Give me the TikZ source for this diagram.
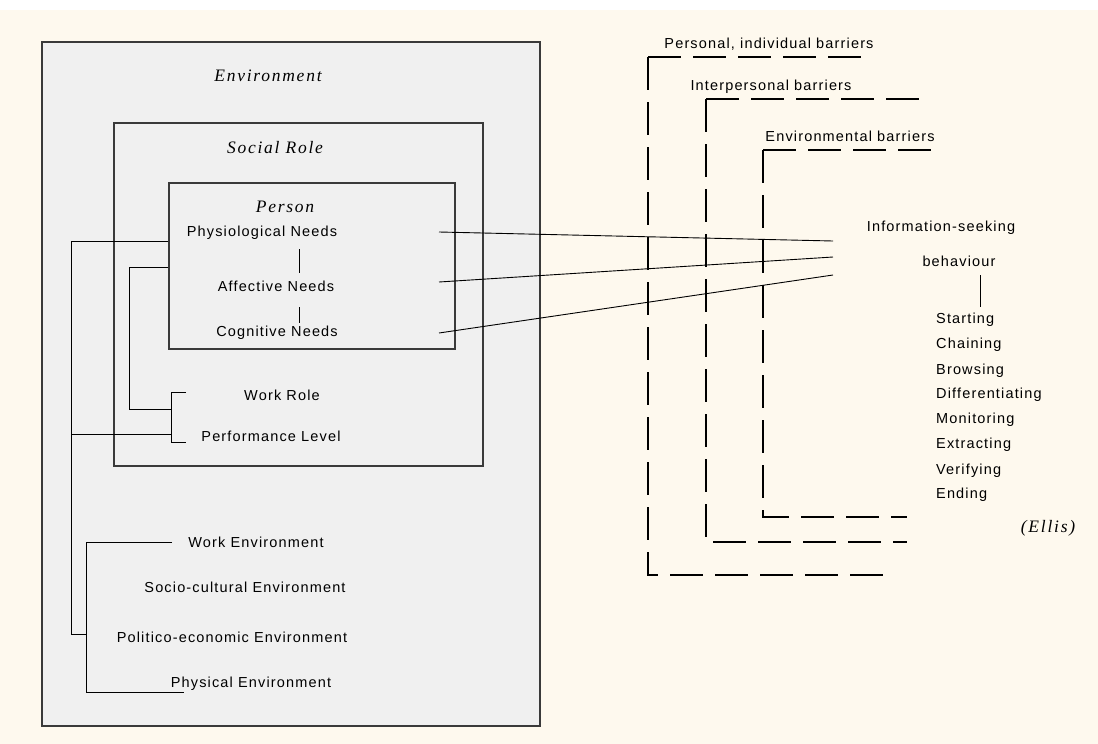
\documentclass[tikz,border=0pt]{standalone}
\usepackage{fontspec}
\setmainfont{Liberation Sans}[LetterSpace=8]
\newfontfamily\handserif{Liberation Serif}[LetterSpace=10]
\usetikzlibrary{positioning}
\definecolor{paper}{HTML}{FEF9EE}
\definecolor{boxgray}{HTML}{F0F0F0}
\definecolor{edgegray}{HTML}{3A3A3A}

\begin{document}
\begin{tikzpicture}[x=1pt, y=-1pt, font=\fontsize{14.5}{17}\selectfont]
% Define styles
\tikzstyle{levelbox} = [rectangle, draw=edgegray, line width=1.4pt, fill=boxgray, inner sep=0pt]
\tikzstyle{heading} = [inner sep=0pt, font=\handserif\itshape\fontsize{17.5}{20}\selectfont]
\tikzstyle{item} = [inner sep=0pt]
\tikzstyle{link} = [line width=0.9pt, black]
\tikzstyle{barrier} = [line width=1.2pt, black, dash pattern=on 33pt off 12pt]

% Background
\useasboundingbox (0,0) rectangle (1098,744);
\fill[paper] (0,0) rectangle (1098,744);
\fill[white] (0,0) rectangle (1098,10);

% Draw boxes
\node [levelbox, minimum width=498pt, minimum height=684pt] (env) at (291,384) {};
\node [levelbox, minimum width=369pt, minimum height=343pt] (role) at (298.5,294.5) {};
\node [levelbox, minimum width=286pt, minimum height=166pt] (person) at (312,266) {};

% Box titles
\node [heading] (envtitle) at (268,76) {Environment};
\node [heading] (roletitle) at (275,148) {Social Role};
\node [heading] (persontitle) at (285,207) {Person};

% Draw nodes
\node [item] (phys) at (262,233) {Physiological Needs};
\node [item] (aff) at (276,286) {Affective Needs};
\node [item] (cog) at (277,333) {Cognitive Needs};
\node [item] (work) at (282,395) {Work Role};
\node [item] (perf) at (271,436) {Performance Level};
\node [item] (workenv) at (256,542) {Work Environment};
\node [item] (socio) at (245,587) {Socio-cultural Environment};
\node [item] (polit) at (232,637) {Politico-economic Environment};
\node [item] (physenv) at (251,684) {Physical Environment};

% Barrier labels
\node [item] (personal) at (769,44) {Personal, individual barriers};
\node [item] (interpersonal) at (771,87) {Interpersonal barriers};
\node [item] (environmental) at (850,136) {Environmental barriers};

% Behaviour and its stages
\node [item] (isb) at (941,228) {Information-seeking};
\node [item] (behav) at (959,261) {behaviour};
\node [item, anchor=west] (starting) at (936,320) {Starting};
\node [item, anchor=west] (chaining) at (936,345) {Chaining};
\node [item, anchor=west] (browsing) at (936,371) {Browsing};
\node [item, anchor=west] (differ) at (936,395) {Differentiating};
\node [item, anchor=west] (monitor) at (936,420) {Monitoring};
\node [item, anchor=west] (extract) at (936,445) {Extracting};
\node [item, anchor=west] (verify) at (936,471) {Verifying};
\node [item, anchor=west] (ending) at (936,495) {Ending};
\node [heading] (ellis) at (1048,528) {(Ellis)};

% Connector points
\coordinate (needA) at (439,232);
\coordinate (needB) at (439,282);
\coordinate (needC) at (439,333);
\coordinate (isbA) at (833,241);
\coordinate (isbB) at (833,257);
\coordinate (isbC) at (833,275);
\coordinate (stemA) at (299,249);
\coordinate (stemB) at (299,273);
\coordinate (stemC) at (299,307);
\coordinate (stemD) at (299,323);
\coordinate (behavTop) at (980,275);
\coordinate (behavBot) at (980,307);

\coordinate (trunkTop) at (71,241);
\coordinate (trunkBot) at (71,634);
\coordinate (trunkEnv) at (86,634);
\coordinate (trunkRole) at (71,434);
\coordinate (branchTop) at (129,267);
\coordinate (branchBot) at (129,409);
\coordinate (roleTop) at (171,392);
\coordinate (roleMid) at (171,409);
\coordinate (roleLow) at (171,434);
\coordinate (roleBot) at (171,442);
\coordinate (roleTopEnd) at (186,392);
\coordinate (roleBotEnd) at (186,442);
\coordinate (envTop) at (86,542);
\coordinate (envBot) at (86,692);
\coordinate (envTopEnd) at (172,542);
\coordinate (envBotEnd) at (184,692);

% Draw connectors
\draw [link] (needA) -- (isbA);
\draw [link] (needB) -- (isbB);
\draw [link] (needC) -- (isbC);
\draw [link] (stemA) -- (stemB);
\draw [link] (stemC) -- (stemD);
\draw [link] (behavTop) -- (behavBot);

\draw [link] (person.west |- trunkTop) -- (trunkTop) -- (trunkBot) -- (trunkEnv);
\draw [link] (trunkRole) -- (roleLow);
\draw [link] (person.west |- branchTop) -- (branchTop) -- (branchBot) -- (roleMid);
\draw [link] (roleTopEnd) -- (roleTop) -- (roleBot) -- (roleBotEnd);
\draw [link] (envTopEnd) -- (envTop) -- (envBot) -- (envBotEnd);

% Draw barriers
\coordinate (pbTop) at (865,57);
\coordinate (pbCorner) at (648,57);
\coordinate (pbFoot) at (648,575);
\coordinate (pbEnd) at (892,575);
\coordinate (ibTop) at (923,99);
\coordinate (ibCorner) at (706,99);
\coordinate (ibFoot) at (706,542);
\coordinate (ibEnd) at (907,542);
\coordinate (ebTop) at (936,150);
\coordinate (ebCorner) at (763,150);
\coordinate (ebFoot) at (763,517);
\coordinate (ebEnd) at (907,517);
\draw [barrier] (pbCorner) -- (pbTop);
\draw [barrier] (pbCorner) -- (pbFoot) -- (pbEnd);
\draw [barrier] (ibCorner) -- (ibTop);
\draw [barrier] (ibCorner) -- (ibFoot) -- (ibEnd);
\draw [barrier] (ebCorner) -- (ebTop);
\draw [barrier] (ebCorner) -- (ebFoot) -- (ebEnd);
\end{tikzpicture}
\end{document}
